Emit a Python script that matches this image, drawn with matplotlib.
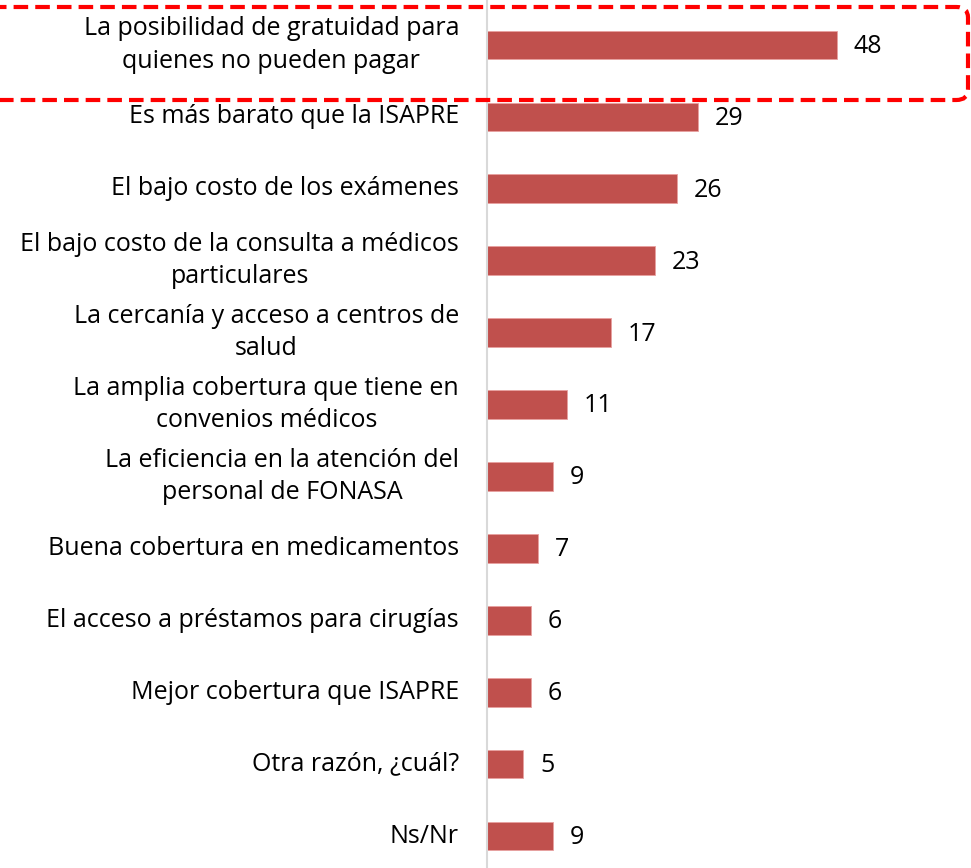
import numpy as np
import matplotlib.pyplot as plt
from matplotlib.patches import FancyBboxPatch

# Data
categories = [
    'La posibilidad de gratuidad para\nquienes no pueden pagar',
    'Es más barato que la ISAPRE',
    'El bajo costo de los exámenes',
    'El bajo costo de la consulta a médicos\nparticulares',
    'La cercanía y acceso a centros de\nsalud',
    'La amplia cobertura que tiene en\nconvenios médicos',
    'La eficiencia en la atención del\npersonal de FONASA',
    'Buena cobertura en medicamentos',
    'El acceso a préstamos para cirugías',
    'Mejor cobertura que ISAPRE',
    'Otra razón, ¿cuál?',
    'Ns/Nr',
]
values = [48, 29, 26, 23, 17, 11, 9, 7, 6, 6, 5, 9]

bar_color = '#C0504D'
W, H = 971, 868

fig = plt.figure(figsize=(W / 100, H / 100), dpi=100)
ax_left = 487 / W
ax = fig.add_axes([ax_left, 0, 1 - ax_left, 1])

y = np.arange(len(categories))
ax.barh(y, values, height=0.40, color=bar_color, edgecolor='#E8A0A0', linewidth=0.6)

px_per_unit = 7.29
ax.set_xlim(0, (W - 487) / px_per_unit)
pitch = (836 - 45) / 11
ax.set_ylim((H - 45) / pitch, -45 / pitch)

for yi, v in zip(y, values):
    ax.text(v + 2.3, yi + 0.02, str(v), va='center', ha='left', fontsize=18, family='Open Sans')

for yi, c in zip(y, categories):
    ax.text(-28 / px_per_unit, yi, c, va='center', ha='right', multialignment='center',
            fontsize=18, family='Open Sans', linespacing=1.38)

for s in ['top', 'right', 'bottom']:
    ax.spines[s].set_visible(False)
ax.spines['left'].set_color('#D9D9D9')
ax.spines['left'].set_linewidth(1.5)
ax.set_xticks([])
ax.set_yticks([])

# highlight box around first item
box = FancyBboxPatch((-20 / W, 1 - 100 / H), (968 + 20) / W, 93 / H,
                     boxstyle='round,pad=0,rounding_size=0.012',
                     transform=fig.transFigure, fill=False, edgecolor='#FF0000',
                     linewidth=3, linestyle=(0, (3.5, 1.7)), clip_on=False)
fig.patches.append(box)

fig.savefig('out.png', dpi=100)
